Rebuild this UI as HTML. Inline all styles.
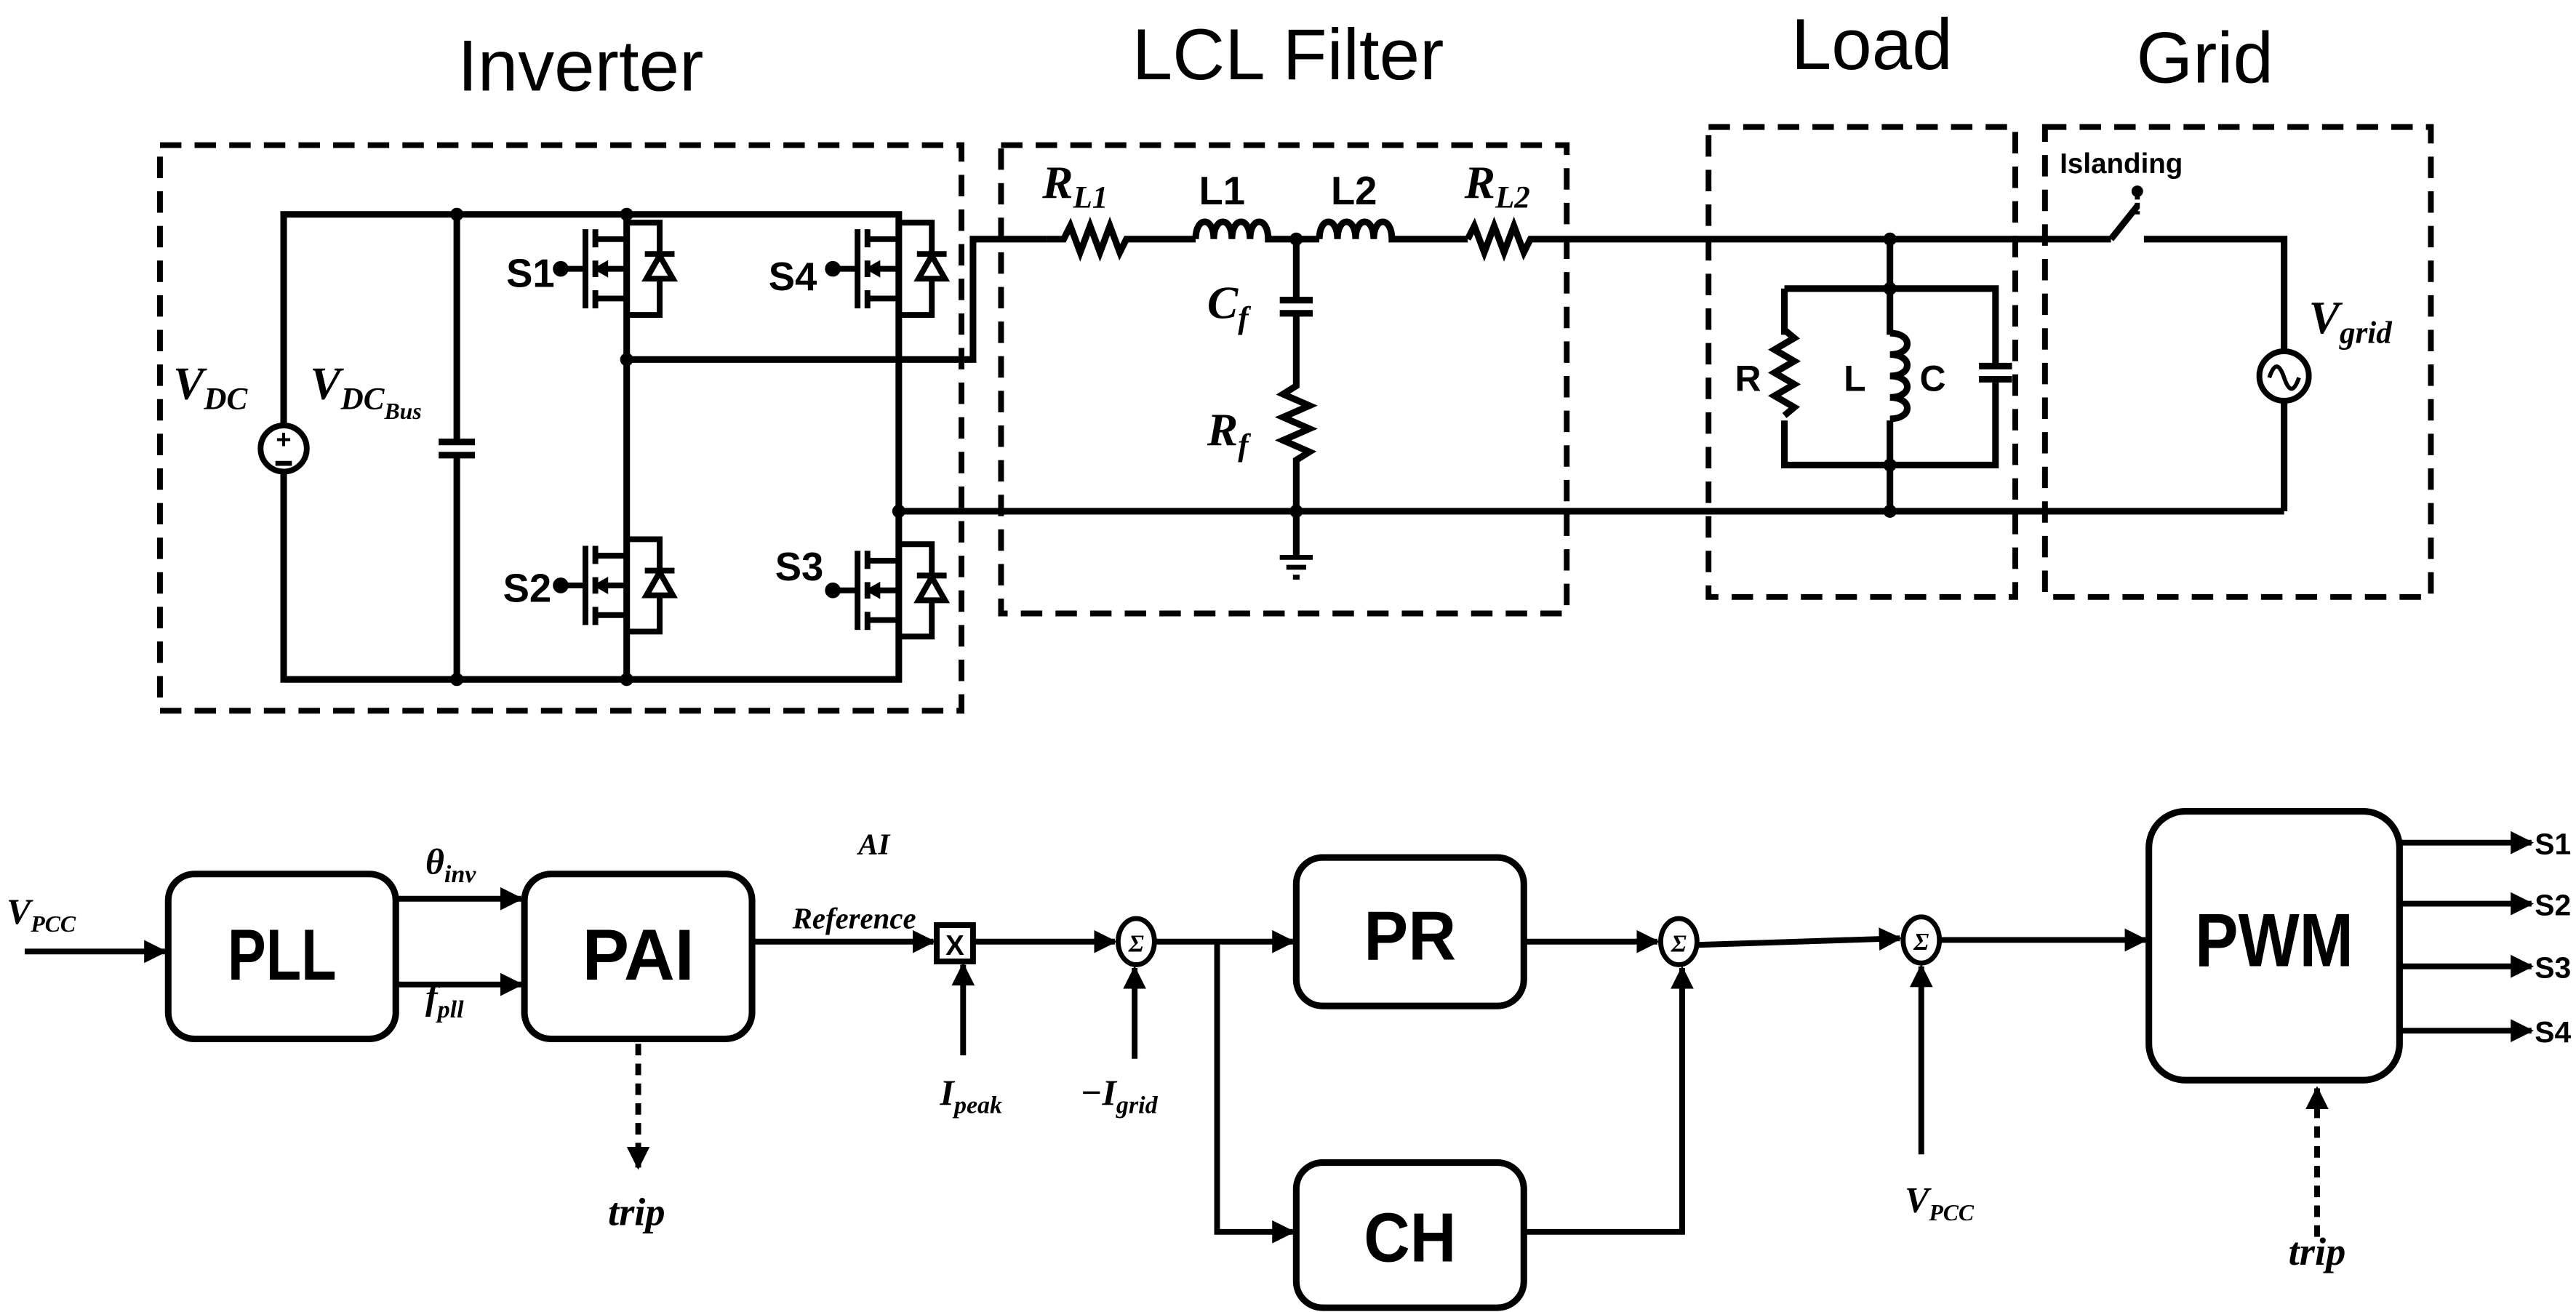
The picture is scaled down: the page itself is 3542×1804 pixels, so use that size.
<!DOCTYPE html>
<html><head><meta charset="utf-8"><style>
html,body{margin:0;padding:0;background:#fff;}
svg{display:block;}
text{font-family:"Liberation Sans",sans-serif;fill:#000;}
.m{font-family:"Liberation Serif",serif;font-style:italic;}
.b{font-weight:bold;}
</style></head><body>
<svg width="3542" height="1804" viewBox="0 0 1562 795.6" preserveAspectRatio="none" xmlns="http://www.w3.org/2000/svg">
<defs>
<marker id="ar" viewBox="0 0 10 10" refX="9" refY="5" markerWidth="4" markerHeight="4" orient="auto" markerUnits="strokeWidth"><path d="M0,0L10,5L0,10z" fill="#000"/></marker>
<g id="mos" fill="none" stroke="#000" stroke-width="3.5">
<line x1="-25" y1="-24" x2="-25" y2="24"/>
<line x1="-19" y1="-24" x2="-19" y2="-13"/><line x1="-19" y1="-5" x2="-19" y2="5"/><line x1="-19" y1="13" x2="-19" y2="24"/>
<line x1="-19" y1="-18" x2="0" y2="-18"/><line x1="-19" y1="18" x2="0" y2="18"/><line x1="-12" y1="0" x2="0" y2="0"/>
<path d="M-19,0 L-12,-4 L-12,4z" fill="#000" stroke-width="1.5"/>
<line x1="-40" y1="0" x2="-25" y2="0"/><circle cx="-40" cy="0" r="3" fill="#000"/>
<path d="M0,-28 H20 V28 H0"/>
<path d="M12,6 L28,6 L20,-8z" fill="#fff"/><line x1="11" y1="-9" x2="29" y2="-9"/>
<line x1="0" y1="-30" x2="0" y2="30"/>
</g>
</defs>

<text x="352" y="55" font-size="44" text-anchor="middle">Inverter</text>
<text x="781" y="48" font-size="44" text-anchor="middle">LCL Filter</text>
<text x="1135" y="42" font-size="44" text-anchor="middle">Load</text>
<text x="1337" y="50" font-size="44" text-anchor="middle">Grid</text>

<g fill="none" stroke="#000" stroke-width="3.5" stroke-dasharray="13,8">
<rect x="97" y="88" width="486" height="343"/>
<rect x="607" y="88" width="343" height="284"/>
<rect x="1036" y="77" width="186" height="285"/>
<rect x="1240" y="77" width="234" height="285"/>
</g>

<g fill="none" stroke="#000" stroke-width="4">
<path d="M172,258 V130 H545 V412 H172 V286"/>
<line x1="277" y1="130" x2="277" y2="268"/><line x1="277" y1="276" x2="277" y2="412"/>
<line x1="266" y1="268" x2="288" y2="268"/><line x1="266" y1="276" x2="288" y2="276"/>
<line x1="380" y1="130" x2="380" y2="412"/>
<path d="M380,218 H590 V145 H635"/>
<path d="M545,310 H1385"/>
<circle cx="172" cy="272" r="14" stroke-width="3.5"/>
</g>
<text x="172" y="272" font-size="16" font-weight="bold" text-anchor="middle">+</text>
<line x1="167" y1="281" x2="177" y2="281" stroke="#000" stroke-width="3"/>
<g fill="#000">
<circle cx="277" cy="130" r="4"/><circle cx="380" cy="130" r="4"/><circle cx="277" cy="412" r="4"/><circle cx="380" cy="412" r="4"/>
<circle cx="380" cy="218" r="4"/><circle cx="545" cy="310" r="4"/>
</g>
<use href="#mos" x="380" y="163"/>
<use href="#mos" x="380" y="355"/>
<use href="#mos" x="545" y="163"/>
<use href="#mos" x="545" y="358"/>
<text class="b" x="307" y="174" font-size="24">S1</text>
<text class="b" x="466" y="176" font-size="24">S4</text>
<text class="b" x="305" y="365" font-size="24">S2</text>
<text class="b" x="470" y="352" font-size="24">S3</text>
<text class="m b" x="105" y="242" font-size="28">V<tspan font-size="19" dy="6">DC</tspan></text>
<text class="m b" x="188" y="242" font-size="28">V<tspan font-size="19" dy="6">DC</tspan><tspan font-size="14" dy="6">Bus</tspan></text>

<g fill="none" stroke="#000" stroke-width="4">
<path d="M635,145 H645 l4,-8 l6,16 l6,-16 l6,16 l6,-16 l6,16 l4,-8 H725"/>
<path d="M725,145 c0,-14 11,-14 11,0 c0,-14 11,-14 11,0 c0,-14 11,-14 11,0 c0,-14 11,-14 11,0 H800"/>
<path d="M800,145 c0,-14 11,-14 11,0 c0,-14 11,-14 11,0 c0,-14 11,-14 11,0 c0,-14 11,-14 11,0 H890"/>
<path d="M890,145 l4,-8 l6,16 l6,-16 l6,16 l6,-16 l6,16 l4,-8 H1280"/>
<path d="M786,145 V182 M776,182 H796 M776,190 H796 M786,190 V234 l-8,5 l16,7 l-16,7 l16,7 l-16,7 l16,7 l-8,5 V338"/>
<path d="M776,338 H796 M780,344 H792 M784,350 H788" stroke-width="3"/>
<path d="M1300,145 H1385 V213 M1385,243 V310"/>
<path d="M1280,145 L1296,125"/>
<line x1="1296" y1="118" x2="1296" y2="130" stroke-dasharray="3,2" stroke-width="3"/>
<circle cx="1385" cy="228" r="15" stroke-width="3.5"/>
<path d="M1376,229 c3,-9 6,-9 9,0 c3,9 6,9 9,0" stroke-width="2.5"/>
<path d="M1146,145 V310 M1082,175 H1210 V222 M1210,230 V282 H1082 V175"/>
<path d="M1200,222 H1220 M1200,230 H1220"/>
</g>
<rect x="1076" y="203" width="14" height="52" fill="#fff"/>
<rect x="1140" y="203" width="14" height="52" fill="#fff"/>
<g fill="none" stroke="#000" stroke-width="4">
<path d="M1082,200 l6,5 l-12,7 l12,7 l-12,7 l12,7 l-12,7 l12,7 l-6,5"/>
<path d="M1146,202 c14,0 14,13 0,13 c14,0 14,13 0,13 c14,0 14,13 0,13 c14,0 14,13 0,13"/>
</g>
<g fill="#000">
<circle cx="786" cy="145" r="4"/><circle cx="786" cy="310" r="4"/>
<circle cx="1146" cy="145" r="4"/><circle cx="1146" cy="175" r="4"/><circle cx="1146" cy="282" r="4"/><circle cx="1146" cy="310" r="4"/>
<circle cx="1296" cy="116" r="3.5"/>
</g>
<text class="m b" x="632" y="120" font-size="28">R<tspan font-size="19" dy="6">L1</tspan></text>
<text class="b" x="727" y="124" font-size="24">L1</text>
<text class="b" x="807" y="124" font-size="24">L2</text>
<text class="m b" x="888" y="120" font-size="28">R<tspan font-size="19" dy="6">L2</tspan></text>
<text class="m b" x="732" y="193" font-size="28">C<tspan font-size="19" dy="6">f</tspan></text>
<text class="m b" x="732" y="270" font-size="28">R<tspan font-size="19" dy="6">f</tspan></text>
<text class="b" x="1052" y="237" font-size="22">R</text>
<text class="b" x="1118" y="237" font-size="22">L</text>
<text class="b" x="1164" y="237" font-size="22">C</text>
<text class="b" x="1249" y="105" font-size="17">Islanding</text>
<text class="m b" x="1400" y="202" font-size="28">V<tspan font-size="19" dy="6">grid</tspan></text>

<g fill="none" stroke="#000" stroke-width="4">
<rect x="102" y="530" width="138" height="100" rx="16"/>
<rect x="318" y="530" width="138" height="100" rx="16"/>
<rect x="786" y="520" width="138" height="90" rx="16"/>
<rect x="786" y="705" width="138" height="88" rx="16"/>
<rect x="1303" y="492" width="152" height="163" rx="22"/>
<rect x="568" y="561" width="22" height="22" stroke-width="3.5"/>
<ellipse cx="689" cy="571" rx="11" ry="14" stroke-width="3"/>
<ellipse cx="1018" cy="571" rx="11" ry="14" stroke-width="3"/>
<ellipse cx="1165" cy="570" rx="11" ry="14" stroke-width="3"/>
</g>
<g fill="none" stroke="#000" stroke-width="3.5" marker-end="url(#ar)">
<line x1="15" y1="577" x2="100" y2="577"/>
<line x1="240" y1="545" x2="316" y2="545"/>
<line x1="240" y1="597" x2="316" y2="597"/>
<line x1="456" y1="571" x2="566" y2="571"/>
<line x1="584" y1="640" x2="584" y2="585"/>
<line x1="590" y1="571" x2="676" y2="571"/>
<line x1="688" y1="642" x2="688" y2="587"/>
<line x1="700" y1="571" x2="784" y2="571"/>
<polyline points="738,571 738,747 784,747"/>
<line x1="924" y1="571" x2="1005" y2="571"/>
<polyline points="924,747 1020,747 1020,587"/>
<line x1="1029" y1="573" x2="1152" y2="569"/>
<line x1="1165" y1="700" x2="1165" y2="586"/>
<line x1="1176" y1="570" x2="1301" y2="570"/>
<line x1="1455" y1="511" x2="1535" y2="511"/>
<line x1="1455" y1="548" x2="1535" y2="548"/>
<line x1="1455" y1="586" x2="1535" y2="586"/>
<line x1="1455" y1="625" x2="1535" y2="625"/>
<line x1="387" y1="633" x2="387" y2="708" stroke-dasharray="7,5"/>
<line x1="1405" y1="750" x2="1405" y2="660" stroke-dasharray="7,5"/>
</g>
<text class="b" x="171" y="594" font-size="44" text-anchor="middle" textLength="66" lengthAdjust="spacingAndGlyphs">PLL</text>
<text class="b" x="387" y="594" font-size="44" text-anchor="middle" textLength="68" lengthAdjust="spacingAndGlyphs">PAI</text>
<text class="b" x="855" y="582" font-size="42" text-anchor="middle" textLength="56" lengthAdjust="spacingAndGlyphs">PR</text>
<text class="b" x="855" y="765" font-size="42" text-anchor="middle" textLength="56" lengthAdjust="spacingAndGlyphs">CH</text>
<text class="b" x="1379" y="586" font-size="46" text-anchor="middle" textLength="96" lengthAdjust="spacingAndGlyphs">PWM</text>
<text class="b" x="579" y="579" font-size="17" text-anchor="middle">X</text>
<text class="m b" x="689" y="577" font-size="15" text-anchor="middle">Σ</text>
<text class="m b" x="1018" y="577" font-size="15" text-anchor="middle">Σ</text>
<text class="m b" x="1165" y="576" font-size="15" text-anchor="middle">Σ</text>
<text class="m b" x="4" y="560" font-size="22">V<tspan font-size="14" dy="5">PCC</tspan></text>
<text class="m b" x="258" y="530" font-size="22">θ<tspan font-size="15" dy="5">inv</tspan></text>
<text class="m b" x="258" y="612" font-size="22">f<tspan font-size="15" dy="5">pll</tspan></text>
<text class="m b" x="530" y="518" font-size="18" text-anchor="middle">AI</text>
<text class="m b" x="518" y="563" font-size="18" text-anchor="middle">Reference</text>
<text class="m b" x="570" y="670" font-size="22">I<tspan font-size="15" dy="5">peak</tspan></text>
<text class="m b" x="655" y="670" font-size="22">−I<tspan font-size="15" dy="5">grid</tspan></text>
<text class="m b" x="1155" y="735" font-size="22">V<tspan font-size="14" dy="5">PCC</tspan></text>
<text class="m b" x="386" y="743" font-size="24" text-anchor="middle">trip</text>
<text class="m b" x="1405" y="767" font-size="24" text-anchor="middle">trip</text>
<text class="b" x="1537" y="518" font-size="18">S1</text>
<text class="b" x="1537" y="555" font-size="18">S2</text>
<text class="b" x="1537" y="593" font-size="18">S3</text>
<text class="b" x="1537" y="632" font-size="18">S4</text>
</svg>
</body></html>
